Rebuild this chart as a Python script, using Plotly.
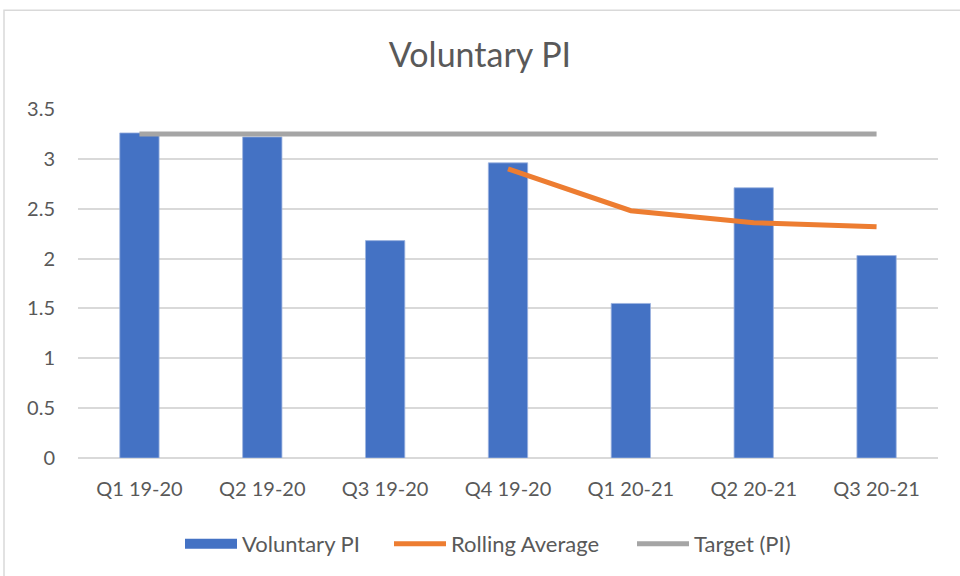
import plotly.graph_objects as go

categories = ["Q1 19-20", "Q2 19-20", "Q3 19-20", "Q4 19-20", "Q1 20-21", "Q2 20-21", "Q3 20-21"]
voluntary_pi = [3.26, 3.22, 2.18, 2.96, 1.55, 2.71, 2.03]
rolling_avg = [None, None, None, 2.90, 2.48, 2.36, 2.32]
target_pi = [3.25, 3.25, 3.25, 3.25, 3.25, 3.25, 3.25]
y_ticks = [0, 0.5, 1, 1.5, 2, 2.5, 3, 3.5]
y_tick_labels = ["0", "0.5", "1", "1.5", "2", "2.5", "3", "3.5"]

FONT = "Lato, 'Open Sans', Arial, sans-serif"
TXT = "#595959"
L, R, T, B = 78, 22, 109, 117
PW, PH = 960 - L - R, 576 - T - B

def px_x(p):
    return (p - L) / PW

def px_y(p):
    return (576 - B - p) / PH

fig = go.Figure()
fig.add_trace(go.Bar(x=categories, y=voluntary_pi, name="Voluntary PI", showlegend=False,
                     marker=dict(color="#4472C4", line=dict(color="#9DB4E0", width=0.8)),
                     width=0.32))
# legend swatch for the bars (wide rectangle, as in the reference)
fig.add_trace(go.Scatter(x=[categories[0]], y=[None], name="Voluntary PI", mode="lines",
                         line=dict(color="#4472C4", width=12), hoverinfo="skip",
                         legend="legend"))
fig.add_trace(go.Scatter(x=categories, y=rolling_avg, name="Rolling Average", mode="lines",
                         line=dict(color="#ED7D31", width=5), connectgaps=False,
                         legend="legend2"))
fig.add_trace(go.Scatter(x=categories, y=target_pi, name="Target (PI)", mode="lines",
                         line=dict(color="#A5A5A5", width=5), legend="legend3"))

def leg(xpix):
    return dict(orientation="h", x=px_x(xpix), xanchor="left", y=px_y(544), yanchor="middle",
                font=dict(size=22, color=TXT, family=FONT), itemwidth=52,
                bgcolor="rgba(0,0,0,0)")

fig.update_layout(
    width=960, height=576,
    margin=dict(l=L, r=R, t=T, b=B),
    paper_bgcolor="white", plot_bgcolor="white",
    font=dict(family=FONT, color=TXT, size=18),
    title=dict(text="Voluntary PI", x=0.5, xanchor="center", y=1 - 55 / 576, yanchor="middle",
               font=dict(size=34, color=TXT, family=FONT)),
    showlegend=True,
    legend=leg(180),
    legend2=leg(389),
    legend3=leg(632),
    shapes=[dict(type="rect", xref="paper", yref="paper", x0=px_x(4), x1=px_x(963),
                 y0=px_y(580), y1=px_y(10), line=dict(color="#D9D9D9", width=1.5),
                 fillcolor="rgba(0,0,0,0)", layer="below")],
)
fig.update_xaxes(range=[-0.5, 6.5], showgrid=False, showline=False, zeroline=False,
                 ticks="", tickfont=dict(size=20, color=TXT), ticklabelstandoff=17)
fig.update_yaxes(range=[0, 3.5], tickvals=y_ticks, ticktext=y_tick_labels,
                 showgrid=True, gridcolor="#D9D9D9", gridwidth=1.5,
                 zeroline=True, zerolinecolor="#D9D9D9", zerolinewidth=1.5,
                 showline=False, ticks="", tickfont=dict(size=20, color=TXT),
                 ticklabelstandoff=22)

fig.write_html("out.html", config={"displayModeBar": False},
               post_script="document.body.style.margin='0';")
